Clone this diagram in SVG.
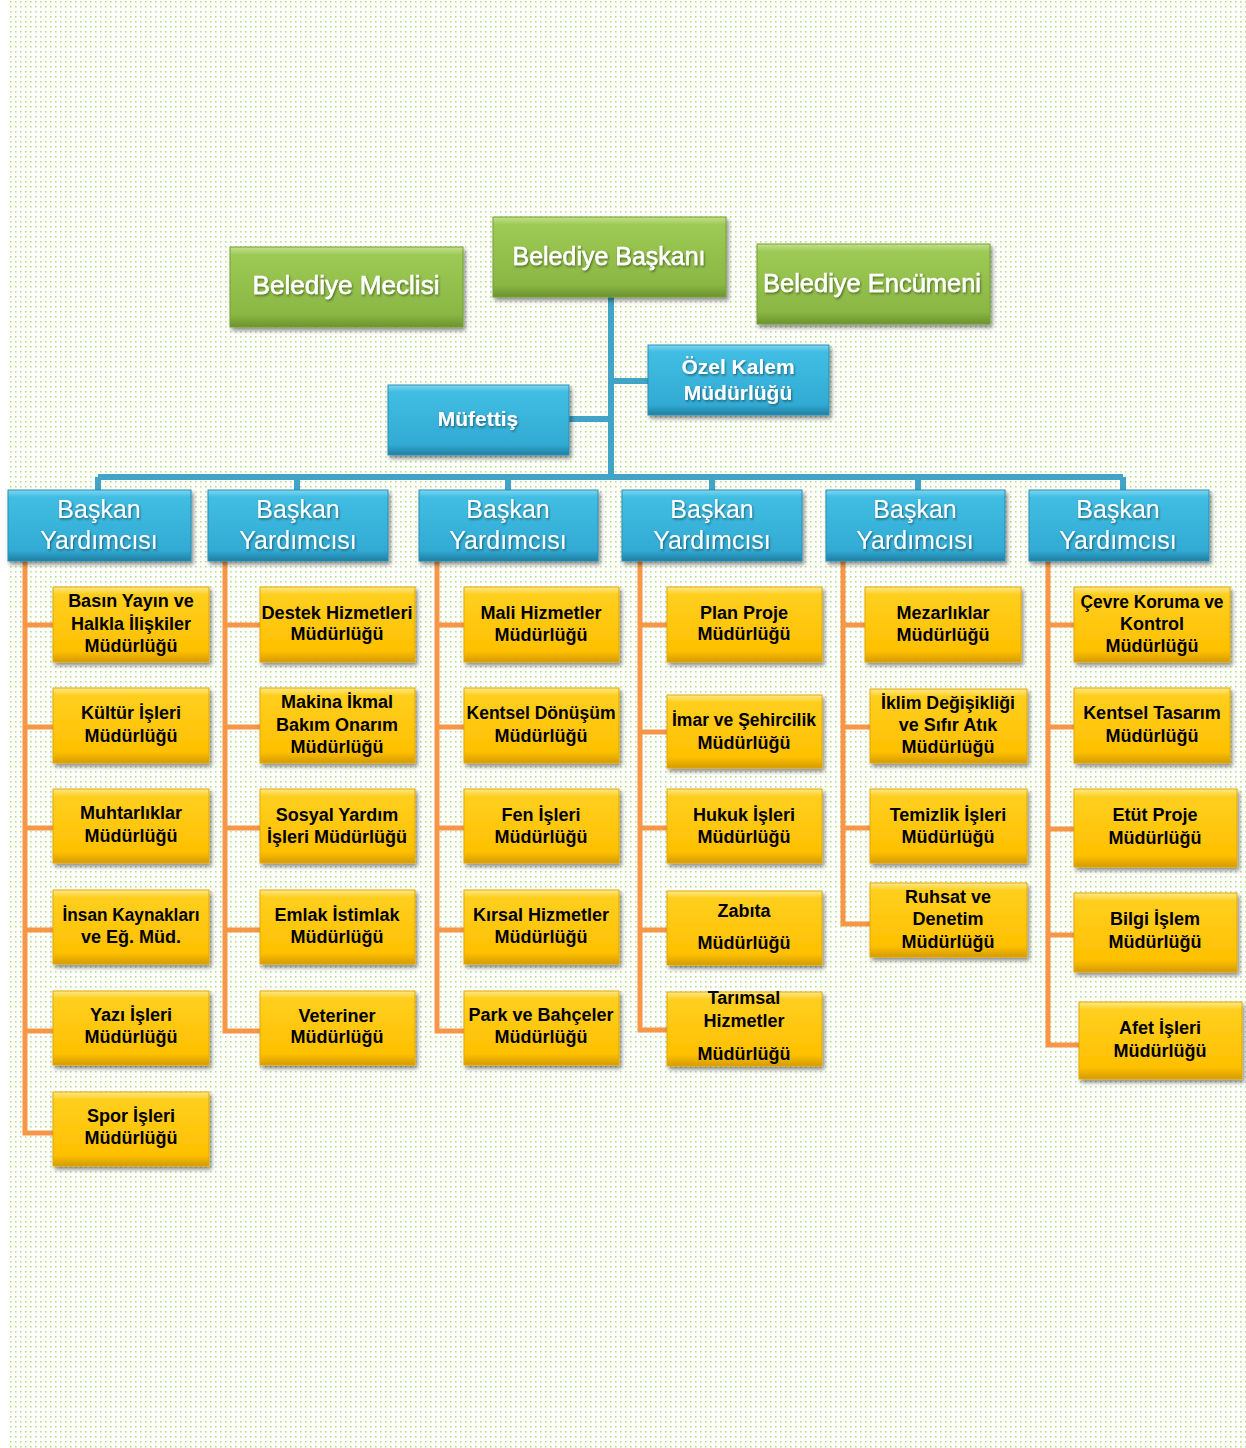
<svg xmlns="http://www.w3.org/2000/svg" width="1246" height="1448" viewBox="0 0 1246 1448">
<defs>
<pattern id="dots" x="10" y="1" width="5" height="5" patternUnits="userSpaceOnUse">
<rect x="0" y="0" width="1.6" height="1.6" fill="#b7df86"/>
</pattern>
<linearGradient id="gg" x1="0" y1="0" x2="0" y2="1">
<stop offset="0" stop-color="#c2e08a"/>
<stop offset="0.1" stop-color="#9dc955"/>
<stop offset="0.85" stop-color="#8ab744"/>
<stop offset="1" stop-color="#6b932d"/>
</linearGradient>
<linearGradient id="bg" x1="0" y1="0" x2="0" y2="1">
<stop offset="0" stop-color="#7fd7f1"/>
<stop offset="0.1" stop-color="#41bde3"/>
<stop offset="0.85" stop-color="#32abd4"/>
<stop offset="1" stop-color="#1f7ea2"/>
</linearGradient>
<linearGradient id="yg" x1="0" y1="0" x2="0" y2="1">
<stop offset="0" stop-color="#ffe98a"/>
<stop offset="0.1" stop-color="#ffcf1f"/>
<stop offset="0.85" stop-color="#ffc000"/>
<stop offset="1" stop-color="#d49c00"/>
</linearGradient>
<filter id="sh" x="-10%" y="-15%" width="130%" height="150%">
<feDropShadow dx="2" dy="3" stdDeviation="2" flood-color="#000" flood-opacity="0.45"/>
</filter>
<filter id="ts" x="-5%" y="-20%" width="110%" height="150%">
<feDropShadow dx="1" dy="1.5" stdDeviation="0.8" flood-color="#000" flood-opacity="0.45"/>
</filter>
<style>
.g{fill:url(#gg);stroke:#76a034;stroke-width:1;filter:url(#sh)}
.b{fill:url(#bg);stroke:#2a8fb4;stroke-width:1;filter:url(#sh)}
.y{fill:url(#yg);stroke:#e3a900;stroke-width:1;filter:url(#sh)}
.tg{font-family:"Liberation Sans",Arial,sans-serif;font-size:25px;fill:#fff;stroke:#fff;stroke-width:0.5;text-anchor:middle;filter:url(#ts)}
.tb{font-family:"Liberation Sans",Arial,sans-serif;font-size:25px;fill:#fff;text-anchor:middle;filter:url(#ts)}
.tm{font-family:"Liberation Sans",Arial,sans-serif;font-size:21px;font-weight:bold;fill:#fff;text-anchor:middle;filter:url(#ts)}
.ty{font-family:"Liberation Sans",Arial,sans-serif;font-size:18px;font-weight:bold;fill:#000;text-anchor:middle}
.cb{fill:none;stroke:#41a3c6;stroke-width:6}
.co{fill:none;stroke:#f79646;stroke-width:5}
</style>
</defs>
<rect x="0" y="0" width="1246" height="1448" fill="#fff"/>
<rect x="10" y="0" width="1236" height="1448" fill="url(#dots)"/>

<g id="connectors">
<path class="cb" d="M611 297 V478 M611 381 H648 M569 419 H611"/>
<path class="cb" stroke-width="5" d="M98 477 H1123 M98 477 V490 M297 477 V490 M508 477 V490 M712 477 V490 M918 477 V490 M1123 477 V490"/>
<path class="co" d="M25 561 V1133 H53 M25 625 H53 M25 727 H53 M25 828 H53 M25 930 H53 M25 1031 H53"/>
<path class="co" d="M225 561 V1031 H260 M225 625 H260 M225 727 H260 M225 828 H260 M225 930 H260"/>
<path class="co" d="M437 561 V1031 H464 M437 625 H464 M437 727 H464 M437 828 H464 M437 930 H464"/>
<path class="co" d="M640 561 V1030 H667 M640 625 H667 M640 732 H667 M640 828 H667 M640 930 H667"/>
<path class="co" d="M843 561 V924 H870 M843 625 H865 M843 727 H870 M843 828 H870"/>
<path class="co" d="M1048 561 V1045 H1079 M1048 625 H1074 M1048 727 H1074 M1048 829 H1074 M1048 935 H1074"/>
</g>

<g id="belediye-meclisi"><rect class="g" x="230" y="247" width="233" height="80"/><text class="tg" x="346" y="294" textLength="187" lengthAdjust="spacingAndGlyphs">Belediye Meclisi</text></g>
<g id="belediye-baskani"><rect class="g" x="493" y="217" width="233" height="80"/><text class="tg" x="609" y="265" textLength="193" lengthAdjust="spacingAndGlyphs">Belediye Başkanı</text></g>
<g id="belediye-encumeni"><rect class="g" x="757" y="244" width="233" height="80"/><text class="tg" x="872" y="292" textLength="218" lengthAdjust="spacingAndGlyphs">Belediye Encümeni</text></g>

<g id="ozel-kalem"><rect class="b" x="648" y="345" width="181" height="70"/><text class="tm" x="738" y="374">Özel Kalem</text><text class="tm" x="738" y="400">Müdürlüğü</text></g>
<g id="mufettis"><rect class="b" x="388" y="385" width="181" height="70"/><text class="tm" x="478" y="426">Müfettiş</text></g>

<g id="by1"><rect class="b" x="8" y="490" width="183" height="71"/><text class="tb" x="99" y="518">Başkan</text><text class="tb" x="99" y="549">Yardımcısı</text></g>
<g id="by2"><rect class="b" x="208" y="490" width="180" height="71"/><text class="tb" x="298" y="518">Başkan</text><text class="tb" x="298" y="549">Yardımcısı</text></g>
<g id="by3"><rect class="b" x="419" y="490" width="179" height="71"/><text class="tb" x="508" y="518">Başkan</text><text class="tb" x="508" y="549">Yardımcısı</text></g>
<g id="by4"><rect class="b" x="622" y="490" width="180" height="71"/><text class="tb" x="712" y="518">Başkan</text><text class="tb" x="712" y="549">Yardımcısı</text></g>
<g id="by5"><rect class="b" x="826" y="490" width="179" height="71"/><text class="tb" x="915" y="518">Başkan</text><text class="tb" x="915" y="549">Yardımcısı</text></g>
<g id="by6"><rect class="b" x="1029" y="490" width="180" height="71"/><text class="tb" x="1118" y="518">Başkan</text><text class="tb" x="1118" y="549">Yardımcısı</text></g>

<g id="basin"><rect class="y" x="53" y="587" width="156" height="75"/><text class="ty" x="131" y="607">Basın Yayın ve</text><text class="ty" x="131" y="630">Halkla İlişkiler</text><text class="ty" x="131" y="652">Müdürlüğü</text></g>
<g id="kultur"><rect class="y" x="53" y="688" width="156" height="75"/><text class="ty" x="131" y="719">Kültür İşleri</text><text class="ty" x="131" y="742">Müdürlüğü</text></g>
<g id="muhtarliklar"><rect class="y" x="53" y="789" width="156" height="74"/><text class="ty" x="131" y="819">Muhtarlıklar</text><text class="ty" x="131" y="842">Müdürlüğü</text></g>
<g id="insan"><rect class="y" x="53" y="890" width="156" height="74"/><text class="ty" x="131" y="921" textLength="137" lengthAdjust="spacingAndGlyphs">İnsan Kaynakları</text><text class="ty" x="131" y="943">ve Eğ. Müd.</text></g>
<g id="yazi"><rect class="y" x="53" y="991" width="156" height="74"/><text class="ty" x="131" y="1021">Yazı İşleri</text><text class="ty" x="131" y="1043">Müdürlüğü</text></g>
<g id="spor"><rect class="y" x="53" y="1092" width="156" height="74"/><text class="ty" x="131" y="1122">Spor İşleri</text><text class="ty" x="131" y="1144">Müdürlüğü</text></g>

<g id="destek"><rect class="y" x="260" y="587" width="155" height="75"/><text class="ty" x="337" y="619" textLength="151" lengthAdjust="spacingAndGlyphs">Destek Hizmetleri</text><text class="ty" x="337" y="640">Müdürlüğü</text></g>
<g id="makina"><rect class="y" x="260" y="688" width="155" height="75"/><text class="ty" x="337" y="708">Makina İkmal</text><text class="ty" x="337" y="731">Bakım Onarım</text><text class="ty" x="337" y="753">Müdürlüğü</text></g>
<g id="sosyal"><rect class="y" x="260" y="789" width="155" height="74"/><text class="ty" x="337" y="821">Sosyal Yardım</text><text class="ty" x="337" y="843">İşleri Müdürlüğü</text></g>
<g id="emlak"><rect class="y" x="260" y="890" width="155" height="74"/><text class="ty" x="337" y="921">Emlak İstimlak</text><text class="ty" x="337" y="943">Müdürlüğü</text></g>
<g id="veteriner"><rect class="y" x="260" y="991" width="155" height="74"/><text class="ty" x="337" y="1022">Veteriner</text><text class="ty" x="337" y="1043">Müdürlüğü</text></g>

<g id="mali"><rect class="y" x="464" y="587" width="155" height="75"/><text class="ty" x="541" y="619">Mali Hizmetler</text><text class="ty" x="541" y="641">Müdürlüğü</text></g>
<g id="kentsel-donusum"><rect class="y" x="464" y="688" width="155" height="75"/><text class="ty" x="541" y="719" textLength="149" lengthAdjust="spacingAndGlyphs">Kentsel Dönüşüm</text><text class="ty" x="541" y="742">Müdürlüğü</text></g>
<g id="fen"><rect class="y" x="464" y="789" width="155" height="74"/><text class="ty" x="541" y="821">Fen İşleri</text><text class="ty" x="541" y="843">Müdürlüğü</text></g>
<g id="kirsal"><rect class="y" x="464" y="890" width="155" height="74"/><text class="ty" x="541" y="921">Kırsal Hizmetler</text><text class="ty" x="541" y="943">Müdürlüğü</text></g>
<g id="park"><rect class="y" x="464" y="991" width="155" height="74"/><text class="ty" x="541" y="1021">Park ve Bahçeler</text><text class="ty" x="541" y="1043">Müdürlüğü</text></g>

<g id="plan"><rect class="y" x="667" y="587" width="155" height="75"/><text class="ty" x="744" y="619">Plan Proje</text><text class="ty" x="744" y="640">Müdürlüğü</text></g>
<g id="imar"><rect class="y" x="667" y="695" width="155" height="73"/><text class="ty" x="744" y="726" textLength="144" lengthAdjust="spacingAndGlyphs">İmar ve Şehircilik</text><text class="ty" x="744" y="749">Müdürlüğü</text></g>
<g id="hukuk"><rect class="y" x="667" y="789" width="155" height="74"/><text class="ty" x="744" y="821">Hukuk İşleri</text><text class="ty" x="744" y="843">Müdürlüğü</text></g>
<g id="zabita"><rect class="y" x="667" y="891" width="155" height="74"/><text class="ty" x="744" y="917">Zabıta</text><text class="ty" x="744" y="949">Müdürlüğü</text></g>
<g id="tarimsal"><rect class="y" x="667" y="992" width="155" height="74"/><text class="ty" x="744" y="1004">Tarımsal</text><text class="ty" x="744" y="1027">Hizmetler</text><text class="ty" x="744" y="1060">Müdürlüğü</text></g>

<g id="mezarliklar"><rect class="y" x="865" y="587" width="156" height="75"/><text class="ty" x="943" y="619">Mezarlıklar</text><text class="ty" x="943" y="641">Müdürlüğü</text></g>
<g id="iklim"><rect class="y" x="870" y="689" width="157" height="74"/><text class="ty" x="948" y="709" textLength="134" lengthAdjust="spacingAndGlyphs">İklim Değişikliği</text><text class="ty" x="948" y="731">ve Sıfır Atık</text><text class="ty" x="948" y="753">Müdürlüğü</text></g>
<g id="temizlik"><rect class="y" x="870" y="789" width="157" height="74"/><text class="ty" x="948" y="821">Temizlik İşleri</text><text class="ty" x="948" y="843">Müdürlüğü</text></g>
<g id="ruhsat"><rect class="y" x="870" y="883" width="157" height="74"/><text class="ty" x="948" y="903">Ruhsat ve</text><text class="ty" x="948" y="925">Denetim</text><text class="ty" x="948" y="948">Müdürlüğü</text></g>

<g id="cevre"><rect class="y" x="1074" y="587" width="156" height="75"/><text class="ty" x="1152" y="608" textLength="143" lengthAdjust="spacingAndGlyphs">Çevre Koruma ve</text><text class="ty" x="1152" y="630">Kontrol</text><text class="ty" x="1152" y="652">Müdürlüğü</text></g>
<g id="kentsel-tasarim"><rect class="y" x="1074" y="688" width="156" height="75"/><text class="ty" x="1152" y="719">Kentsel Tasarım</text><text class="ty" x="1152" y="742">Müdürlüğü</text></g>
<g id="etut"><rect class="y" x="1074" y="789" width="163" height="78"/><text class="ty" x="1155" y="821">Etüt Proje</text><text class="ty" x="1155" y="844">Müdürlüğü</text></g>
<g id="bilgi"><rect class="y" x="1074" y="893" width="163" height="79"/><text class="ty" x="1155" y="925">Bilgi İşlem</text><text class="ty" x="1155" y="948">Müdürlüğü</text></g>
<g id="afet"><rect class="y" x="1079" y="1002" width="163" height="77"/><text class="ty" x="1160" y="1034">Afet İşleri</text><text class="ty" x="1160" y="1057">Müdürlüğü</text></g>
</svg>
